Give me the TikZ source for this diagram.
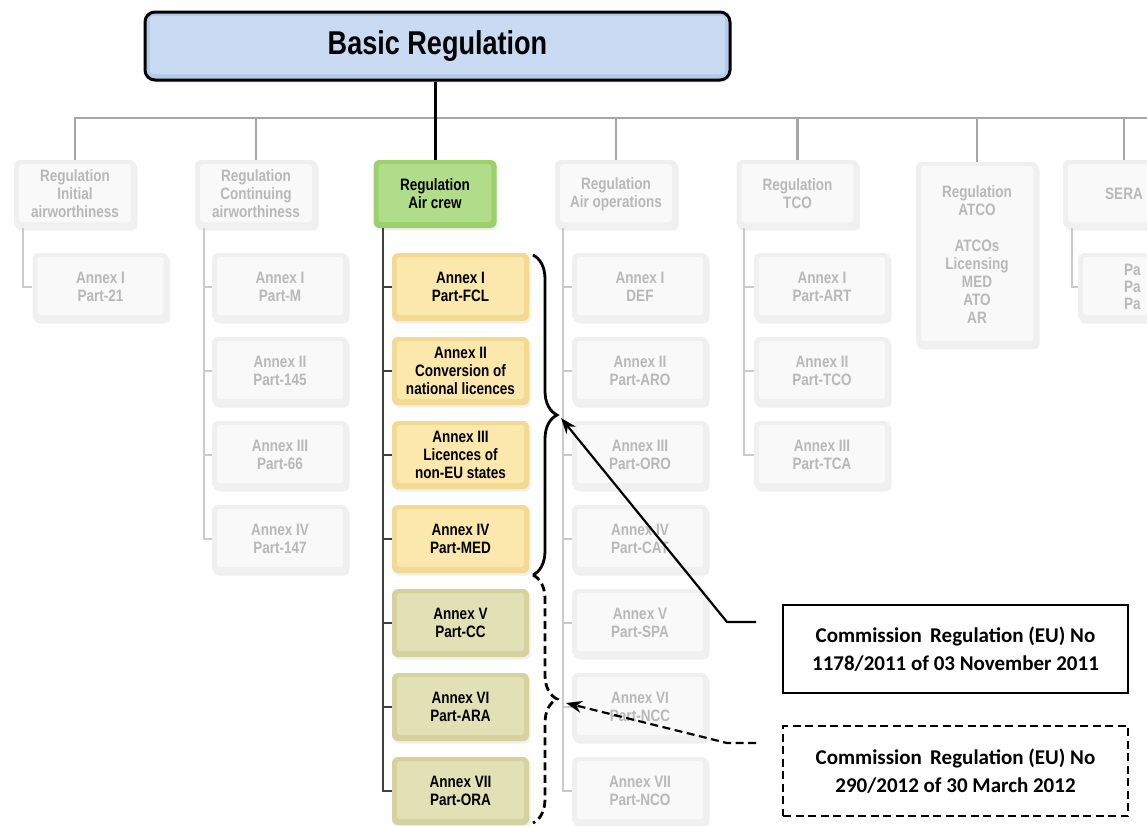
\documentclass[tikz,border=0pt]{standalone}
\usepackage{fontspec}
\setmainfont{Liberation Sans}
\newfontfamily\nar[FakeStretch=0.82]{Liberation Sans}
\newfontfamily\calfont{Carlito}
\usetikzlibrary{shadows,decorations.pathreplacing,arrows.meta}
\definecolor{gtext}{HTML}{B8B8B8}
\definecolor{gedge}{HTML}{F0F0F0}
\definecolor{ginner}{HTML}{F9F9F9}
\definecolor{gline}{HTML}{A6A6A6}
\definecolor{gsub}{HTML}{CACACA}
\definecolor{bedge}{HTML}{B3CBEA}
\definecolor{binner}{HTML}{C8DBF2}
\definecolor{cedge}{HTML}{9CD06C}
\definecolor{cinner}{HTML}{B1DC89}
\definecolor{yedge}{HTML}{F4D992}
\definecolor{yinner}{HTML}{FCE7AC}
\definecolor{oedge}{HTML}{D5D29E}
\definecolor{oinner}{HTML}{E2E0B5}
\tikzset{
  bx/.style 2 args={rounded corners=6pt, fill=#1, inner sep=0pt, align=center,
    minimum height=68pt,
    font=\nar\bfseries\fontsize{16.5}{18}\selectfont,
    drop shadow={opacity=0.12, shadow xshift=1.5pt, shadow yshift=-2.5pt},
    path picture={\fill[#2, rounded corners=3pt]
      ([shift={(5pt,6pt)}]path picture bounding box.south west) rectangle
      ([shift={(-5pt,-4pt)}]path picture bounding box.north east);}},
  topg/.style={bx={gedge}{ginner}, text=gtext, minimum width=122pt},
  anng/.style={bx={gedge}{ginner}, text=gtext, minimum width=136pt},
  anny/.style={bx={yedge}{yinner}, text=black, minimum width=137pt},
  anno/.style={bx={oedge}{oinner}, text=black, minimum width=137pt},
  topc/.style={bx={cedge}{cinner}, text=black, minimum width=123pt},
  hline/.style={draw=gline, line width=2.6pt},
  subg/.style={draw=gsub, line width=1.8pt},
  subd/.style={draw=black!75, line width=1.8pt},
  cbox/.style={draw=black, line width=2.4pt, minimum width=345pt, inner sep=0pt,
    align=center, font=\calfont\bfseries\fontsize{21}{28}\selectfont},
  bracesty/.style={decorate, decoration={brace, amplitude=24pt}, line width=2.8pt},
  arr/.style={line width=2.2pt, -{Stealth[length=16pt,width=12pt]}},
  dsh/.style={dash pattern=on 8pt off 4.5pt},
}
\begin{document}
\begin{tikzpicture}[x=1pt,y=-1pt]
\useasboundingbox (0,0) rectangle (1147,825);
\clip (0,0) rectangle (1147,825);

% Basic regulation
\node[bx={bedge}{binner}, draw=black, line width=3pt, rounded corners=10pt,
      minimum width=585pt, minimum height=68pt,
      font=\nar\bfseries\fontsize{33}{36}\selectfont] (br) at (437.5,46) {Basic Regulation};

% top-level regulation boxes
\node[topg] (r1) at (75,194) {Regulation\\Initial\\airworthiness};
\node[topg] (r2) at (256,194) {Regulation\\Continuing\\airworthiness};
\node[topc] (ac) at (435,194) {Regulation\\Air crew};
\node[topg] (r4) at (616,194) {Regulation\\Air operations};
\node[topg] (r5) at (797.5,194) {Regulation\\TCO};
\node[topg, minimum height=185pt] (r6) at (977,254.5) {Regulation\\ATCO\\[18pt]ATCOs\\Licensing\\MED\\ATO\\AR};
\node[topg] (r7) at (1124,194) {SERA};

% connectors from basic regulation
\coordinate (hend) at (1150,118);
\draw[hline] (r1.north) |- (hend);
\foreach \n in {r2,r4,r5,r6,r7} \draw[hline] (\n.north) -- (\n.north |- hend);
\draw[line width=3pt] (ac.north |- br.south) -- (ac.north);

% column 1
\node[anng] (a11) at (100.5,287) {Annex I\\Part-21};
\coordinate (l1) at ([xshift=9pt]r1.south west);
\draw[subg] (l1) |- (a11.west);

% column 2
\node[anng] (a21) at (280,287) {Annex I\\Part-M};
\node[anng] (a22) at (280,371) {Annex II\\Part-145};
\node[anng] (a23) at (280,455) {Annex III\\Part-66};
\node[anng] (a24) at (280,539) {Annex IV\\Part-147};
\coordinate (l2) at ([xshift=9pt]r2.south west);
\draw[subg] (l2) |- (a24.west);
\foreach \n in {a21,a22,a23} \draw[subg] (\n.west) -- (\n.west -| l2);

% column 3 (air crew)
\node[anny] (m1) at (460.5,287) {Annex I\\Part-FCL};
\node[anny] (m2) at (460.5,371) {Annex II\\Conversion of\\national licences};
\node[anny] (m3) at (460.5,455) {Annex III\\Licences of\\non-EU states};
\node[anny] (m4) at (460.5,539) {Annex IV\\Part-MED};
\node[anno] (m5) at (460.5,623) {Annex V\\Part-CC};
\node[anno] (m6) at (460.5,707) {Annex VI\\Part-ARA};
\node[anno] (m7) at (460.5,791) {Annex VII\\Part-ORA};
\coordinate (l3) at ([xshift=9.5pt]ac.south west);
\draw[subd] (l3) |- (m7.west);
\foreach \n in {m1,m2,m3,m4,m5,m6} \draw[subd] (\n.west) -- (\n.west -| l3);

% column 4 (air operations)
\node[anng] (o1) at (640,287) {Annex I\\DEF};
\node[anng] (o2) at (640,371) {Annex II\\Part-ARO};
\node[anng] (o3) at (640,455) {Annex III\\Part-ORO};
\node[anng] (o4) at (640,539) {Annex IV\\Part-CAT};
\node[anng] (o5) at (640,623) {Annex V\\Part-SPA};
\node[anng] (o6) at (640,707) {Annex VI\\Part-NCC};
\node[anng] (o7) at (640,791) {Annex VII\\Part-NCO};
\coordinate (l4) at ([xshift=8pt]r4.south west);
\draw[subg] (l4) |- (o7.west);
\foreach \n in {o1,o2,o3,o4,o5,o6} \draw[subg] (\n.west) -- (\n.west -| l4);

% column 5 (TCO)
\node[anng] (t1) at (822,287) {Annex I\\Part-ART};
\node[anng] (t2) at (822,371) {Annex II\\Part-TCO};
\node[anng] (t3) at (822,455) {Annex III\\Part-TCA};
\coordinate (l5) at ([xshift=8pt]r5.south west);
\draw[subg] (l5) |- (t3.west);
\foreach \n in {t1,t2} \draw[subg] (\n.west) -- (\n.west -| l5);

% column 7 (SERA)
\node[anng, minimum width=137pt] (s1) at (1146.5,287) {};
\node[anchor=west, align=left, text=gtext, inner sep=0pt,
      font=\nar\bfseries\fontsize{16.5}{17}\selectfont] (s1t) at (1124,287) {Pa\\Pa\\Pa};
\coordinate (l7) at ([xshift=9pt]r7.south west);
\draw[subg] (l7) |- (s1.west);

% braces
\coordinate (bt) at (533,255);
\coordinate (bm) at (533,575);
\coordinate (bb) at (533,823);
\draw[bracesty] (bt) -- (bm);
\draw[bracesty, dsh] (bm) -- (bb);
\coordinate (tip1) at (561,418);
\coordinate (tip2) at (566,703);

% commission boxes
\node[cbox, minimum height=88pt] (c1) at (955.5,649) {Commission\, Regulation (EU) No\\1178/2011 of 03 November 2011};
\node[cbox, dsh, line width=2pt, minimum height=90pt] (c2) at (955.5,771) {Commission\, Regulation (EU) No\\290/2012 of 30 March 2012};

% arrows
\coordinate (e1) at (756,622);
\coordinate (k1) at (727,622);
\coordinate (e2) at (756,743);
\coordinate (k2) at (727,743);
\draw[arr] (e1) -- (k1) -- (tip1);
\draw[arr, dsh] (e2) -- (k2) -- (tip2);
\end{tikzpicture}
\end{document}
